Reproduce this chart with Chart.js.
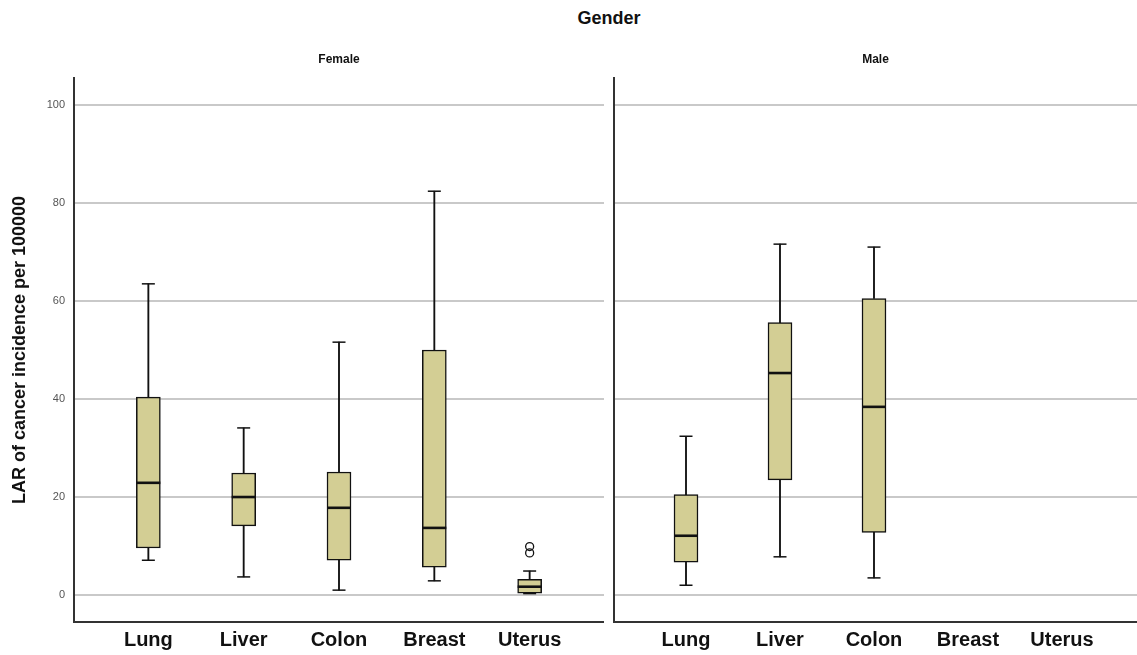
<!DOCTYPE html>
<html>
<head>
<meta charset="utf-8">
<script src="https://cdn.jsdelivr.net/npm/chart.js@4.4.1/dist/chart.umd.min.js"></script>
<style>
  html, body { margin: 0; padding: 0; background: #fff; overflow: hidden; }
  #wrap { position: relative; width: 1137px; height: 655px; overflow: hidden; }
  #title { position: absolute; top: 8px; left: 0; width: 1218px; text-align: center;
           font: bold 18px "Liberation Sans", Arial, sans-serif; color: #111; }
  canvas { position: absolute; top: 0; display: block; }
  #female { left: 0; }
  #male { left: 604px; }
</style>
</head>
<body>
<div id="wrap">
  <div id="title">Gender</div>
  <canvas id="female" width="604" height="655"></canvas>
  <canvas id="male" width="533" height="655"></canvas>
</div>
<script>
// ---- data ----
const categories = ['Lung', 'Liver', 'Colon', 'Breast', 'Uterus'];
const yTicks = [0, 20, 40, 60, 80, 100];

const femaleMin    = [7.1, 3.7, 1.0, 2.9, 0.3];
const femaleQ1     = [9.6, 14.1, 7.1, 5.7, 0.4];
const femaleMedian = [22.9, 20.0, 17.8, 13.7, 1.7];
const femaleQ3     = [40.4, 24.9, 25.1, 50.0, 3.2];
const femaleMax    = [63.5, 34.1, 51.6, 82.4, 4.9];
const femaleOutliers = [[], [], [], [], [9.9, 8.6]];

const maleMin    = [2.0, 7.8, 3.5, null, null];
const maleQ1     = [6.7, 23.5, 12.8, null, null];
const maleMedian = [12.1, 45.3, 38.4, null, null];
const maleQ3     = [20.5, 55.6, 60.5, null, null];
const maleMax    = [32.4, 71.6, 71.0, null, null];
const maleOutliers = [[], [], [], [], []];

Chart.defaults.font.family = '"Liberation Sans", Arial, sans-serif';
Chart.defaults.color = '#333';

const boxFill = '#d3ce94';
const ink = '#111';

function rangeData(lo, hi) {
  return categories.map((c, i) => lo[i] == null ? null : { x: i, y: [lo[i], hi[i]] }).filter(Boolean);
}
function pointData(vals) {
  const out = [];
  categories.forEach((c, i) => { if (vals[i] != null) out.push({ x: i, y: vals[i] }); });
  return out;
}
function outlierData(list) {
  const out = [];
  list.forEach((arr, i) => arr.forEach(v => out.push({ x: i, y: v })));
  return out;
}

function makeDatasets(mn, q1, med, q3, mx, outl) {
  return [
    { type: 'bar', data: rangeData(mn, q1), backgroundColor: ink, barThickness: 1.2, grouped: false, order: 5 },
    { type: 'bar', data: rangeData(q3, mx), backgroundColor: ink, barThickness: 1.2, grouped: false, order: 5 },
    { type: 'bar', data: rangeData(q1, q3), backgroundColor: boxFill, borderColor: ink, borderWidth: 1.5,
      borderSkipped: false, barThickness: 24, grouped: false, order: 3 },
    { type: 'scatter', data: pointData(med), pointStyle: 'line', radius: 12, borderColor: ink, borderWidth: 2.6, order: 1 },
    { type: 'scatter', data: pointData(mn), pointStyle: 'line', radius: 6.5, borderColor: ink, borderWidth: 1.5, order: 1 },
    { type: 'scatter', data: pointData(mx), pointStyle: 'line', radius: 6.5, borderColor: ink, borderWidth: 1.5, order: 1 },
    { type: 'scatter', data: outlierData(outl), pointStyle: 'circle', radius: 4, backgroundColor: 'rgba(255,255,255,0)',
      borderColor: ink, borderWidth: 1.3, order: 0 }
  ];
}

function makeOptions(panelTitle, isLeft, xMin, xMax) {
  return {
    responsive: false,
    animation: false,
    events: [],
    layout: { padding: 0, autoPadding: false },
    plugins: {
      legend: { display: false },
      tooltip: { enabled: false },
      title: {
        display: true, text: panelTitle, color: '#111', fullSize: false,
        font: { size: 12, weight: 'bold' },
        padding: { top: 52, bottom: 11.6 }
      }
    },
    scales: {
      x: {
        type: 'linear', min: xMin, max: xMax, offset: false,
        afterBuildTicks: s => { s.ticks = categories.map((c, i) => ({ value: i })); },
        afterFit: s => { s.height = 33; s.paddingLeft = 0; s.paddingRight = 0; },
        ticks: {
          callback: v => categories[v],
          font: { size: 20, weight: 'bold' }, color: '#111',
          padding: 6, maxRotation: 0, autoSkip: false
        },
        grid: { display: false, drawTicks: false, offset: false },
        border: { display: true, color: '#333', width: 2 }
      },
      y: {
        type: 'linear', min: -5.5, max: 105.5,
        afterBuildTicks: s => { s.ticks = yTicks.map(v => ({ value: v })); },
        afterFit: s => { s.width = isLeft ? 74 : 10; s.paddingLeft = 0; s.paddingRight = 0; },
        ticks: { display: isLeft, font: { size: 11 }, color: '#555', padding: 9 },
        grid: { color: '#c9c9c9', lineWidth: 2, drawTicks: false },
        border: { display: true, color: '#333', width: 2 },
        title: {
          display: isLeft, text: 'LAR of cancer incidence per 100000', color: '#111',
          font: { size: 18, weight: 'bold' }, padding: { top: 9, bottom: 0 }
        }
      }
    }
  };
}

new Chart(document.getElementById('female'), {
  type: 'bar',
  data: { datasets: makeDatasets(femaleMin, femaleQ1, femaleMedian, femaleQ3, femaleMax, femaleOutliers) },
  options: makeOptions('Female', true, -0.78, 4.78)
});

new Chart(document.getElementById('male'), {
  type: 'bar',
  data: { datasets: makeDatasets(maleMin, maleQ1, maleMedian, maleQ3, maleMax, maleOutliers) },
  options: makeOptions('Male', false, -0.766, 4.798)
});
</script>
</body>
</html>
